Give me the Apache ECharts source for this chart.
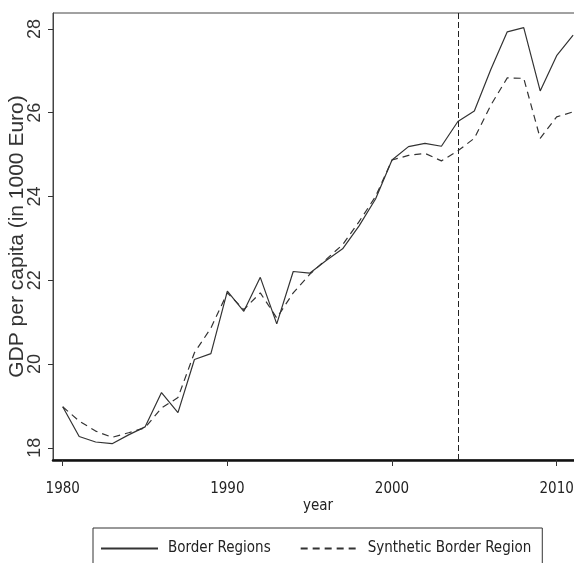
<!DOCTYPE html>
<html>
<head>
<meta charset="utf-8">
<script src="https://cdn.jsdelivr.net/npm/echarts@6/dist/echarts.min.js"></script>
<style>
    html, body { margin: 0; padding: 0; background: #fff; }
    #chart { width: 574px; height: 563px; }
</style>
</head>
<body>
<div id="chart"></div>
<script>
    // years on the x axis
    const years = [1980, 1981, 1982, 1983, 1984, 1985, 1986, 1987, 1988, 1989,
        1990, 1991, 1992, 1993, 1994, 1995, 1996, 1997, 1998, 1999,
        2000, 2001, 2002, 2003, 2004, 2005, 2006, 2007, 2008, 2009, 2010, 2011]
    // GDP per capita, border regions (solid)
    const border = [18.98, 18.27, 18.14, 18.10, 18.31, 18.50, 19.32, 18.84, 20.11, 20.25,
        21.74, 21.26, 22.07, 20.96, 22.21, 22.17, 22.47, 22.75, 23.30, 23.94,
        24.87, 25.19, 25.27, 25.20, 25.79, 26.04, 27.03, 27.93, 28.03, 26.52, 27.36, 27.85]
    // synthetic border region (dashed)
    const synthetic = [18.98, 18.64, 18.40, 18.25, 18.36, 18.48, 18.95, 19.20, 20.27, 20.86,
        21.70, 21.30, 21.70, 21.10, 21.70, 22.14, 22.50, 22.85, 23.40, 24.00,
        24.87, 24.98, 25.03, 24.85, 25.09, 25.39, 26.18, 26.83, 26.82, 25.39, 25.90, 26.02]
    const xTicks = [1980, 1990, 2000, 2010]
    const yTicks = [18, 20, 22, 24, 26, 28]
    const treatYear = 2004

    // narrow font if we have one, otherwise plain sans a bit smaller
    function hasFont(name) {
        const ctx = document.createElement('canvas').getContext('2d')
        ctx.font = '18px monospace'
        const base = ctx.measureText('Border Regions 1980').width
        ctx.font = `18px '${name}', monospace`
        return ctx.measureText('Border Regions 1980').width !== base
    }
    let narrow = "'Liberation Sans', Arial, sans-serif"
    let narrowSize = 14
    for (const f of ['Liberation Sans Narrow', 'Arial Narrow', 'DejaVu Sans Condensed']) {
        if (hasFont(f)) { narrow = `'${f}', sans-serif`; narrowSize = f.indexOf('DejaVu') === 0 ? 15 : 17; break }
    }
    const sans = "'Liberation Sans', Arial, sans-serif"
    const ink = '#222'

    const chart = echarts.init(document.getElementById('chart'))
    chart.setOption({
        animation: false,
        grid: {
            left: 53, top: 13, right: -9, bottom: 103,
            containLabel: false, outerBoundsMode: 'none',
            show: true, borderColor: '#444', borderWidth: 1
        },
        legend: {
            left: 93, top: 528, width: 600,
            itemWidth: 57, itemHeight: 14, itemGap: 29,
            padding: [13, 11, 40, 7],
            borderColor: '#333', borderWidth: 1,
            itemStyle: {color: 'rgba(0,0,0,0)', borderWidth: 0, opacity: 0},
            textStyle: {fontFamily: narrow, fontSize: narrowSize, color: ink, padding: [0, 0, 0, 5]},
            data: ['Border Regions', 'Synthetic Border Region']
        },
        xAxis: {
            type: 'value',
            min: 1979.41, max: 2011.6,
            name: 'year', nameLocation: 'middle', nameGap: 39, nameMoveOverlap: false,
            nameTextStyle: {fontFamily: narrow, fontSize: narrowSize, color: ink},
            axisLine: {show: true, lineStyle: {color: '#111', width: 2.5}},
            axisTick: {show: true, length: 6, customValues: xTicks, lineStyle: {color: '#333'}},
            axisLabel: {
                customValues: xTicks, margin: 22,
                formatter: v => String(v),
                fontFamily: narrow, fontSize: narrowSize, color: ink
            },
            splitLine: {show: false}
        },
        yAxis: {
            type: 'value',
            min: 17.71, max: 28.38,
            name: 'GDP per capita (in 1000 Euro)', nameLocation: 'middle', nameGap: 25,
            nameMoveOverlap: false, nameRotate: 90,
            nameTextStyle: {fontFamily: sans, fontSize: 21, color: '#333'},
            axisLine: {show: true, lineStyle: {color: '#444', width: 1}},
            axisTick: {show: true, length: 5, customValues: yTicks, lineStyle: {color: '#333'}},
            axisLabel: {
                customValues: yTicks, rotate: 90, margin: 9,
                formatter: v => String(v),
                fontFamily: sans, fontSize: 18, color: '#333'
            },
            splitLine: {show: false}
        },
        series: [
            {
                name: 'Border Regions',
                type: 'line',
                symbol: 'none',
                data: years.map((y, i) => [y, border[i]]),
                lineStyle: {color: '#333', width: 1.2, type: 'solid'},
                itemStyle: {color: '#333'},
                markLine: {
                    silent: true,
                    symbol: 'none',
                    label: {show: false},
                    lineStyle: {color: ink, width: 1, type: [6, 3]},
                    data: [{xAxis: treatYear}]
                }
            },
            {
                name: 'Synthetic Border Region',
                type: 'line',
                symbol: 'none',
                data: years.map((y, i) => [y, synthetic[i]]),
                lineStyle: {color: '#333', width: 1.2, type: [7, 5]},
                itemStyle: {color: '#333'}
            }
        ]
    })
</script>
</body>
</html>
